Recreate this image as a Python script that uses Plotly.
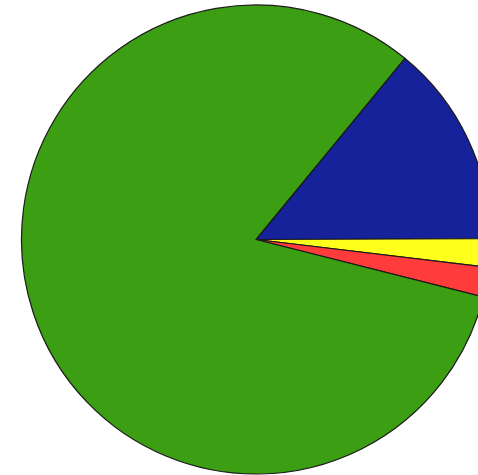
import plotly.graph_objects as go

labels = ["Blue", "Yellow", "Red", "Green"]
values = [14.0, 1.95, 2.05, 82.0]
colors = ["#15229a", "#ffff1e", "#ff3b3b", "#3c9e12"]

fig = go.Figure(
    go.Pie(
        labels=labels,
        values=values,
        sort=False,
        direction="clockwise",
        rotation=39.4,
        marker=dict(colors=colors, line=dict(color="#1a1a1a", width=1.2)),
        textinfo="none",
        hoverinfo="label+percent",
        domain=dict(x=[0, 1], y=[1 / 475, 470 / 475]),
    )
)

fig.update_layout(
    width=512,
    height=475,
    margin=dict(l=0, r=0, t=0, b=0),
    showlegend=False,
    paper_bgcolor="white",
    plot_bgcolor="white",
)

fig.write_html(
    "out.html",
    config={"displayModeBar": False},
    post_script="document.body.style.margin='0';document.body.style.overflow='hidden';",
)
